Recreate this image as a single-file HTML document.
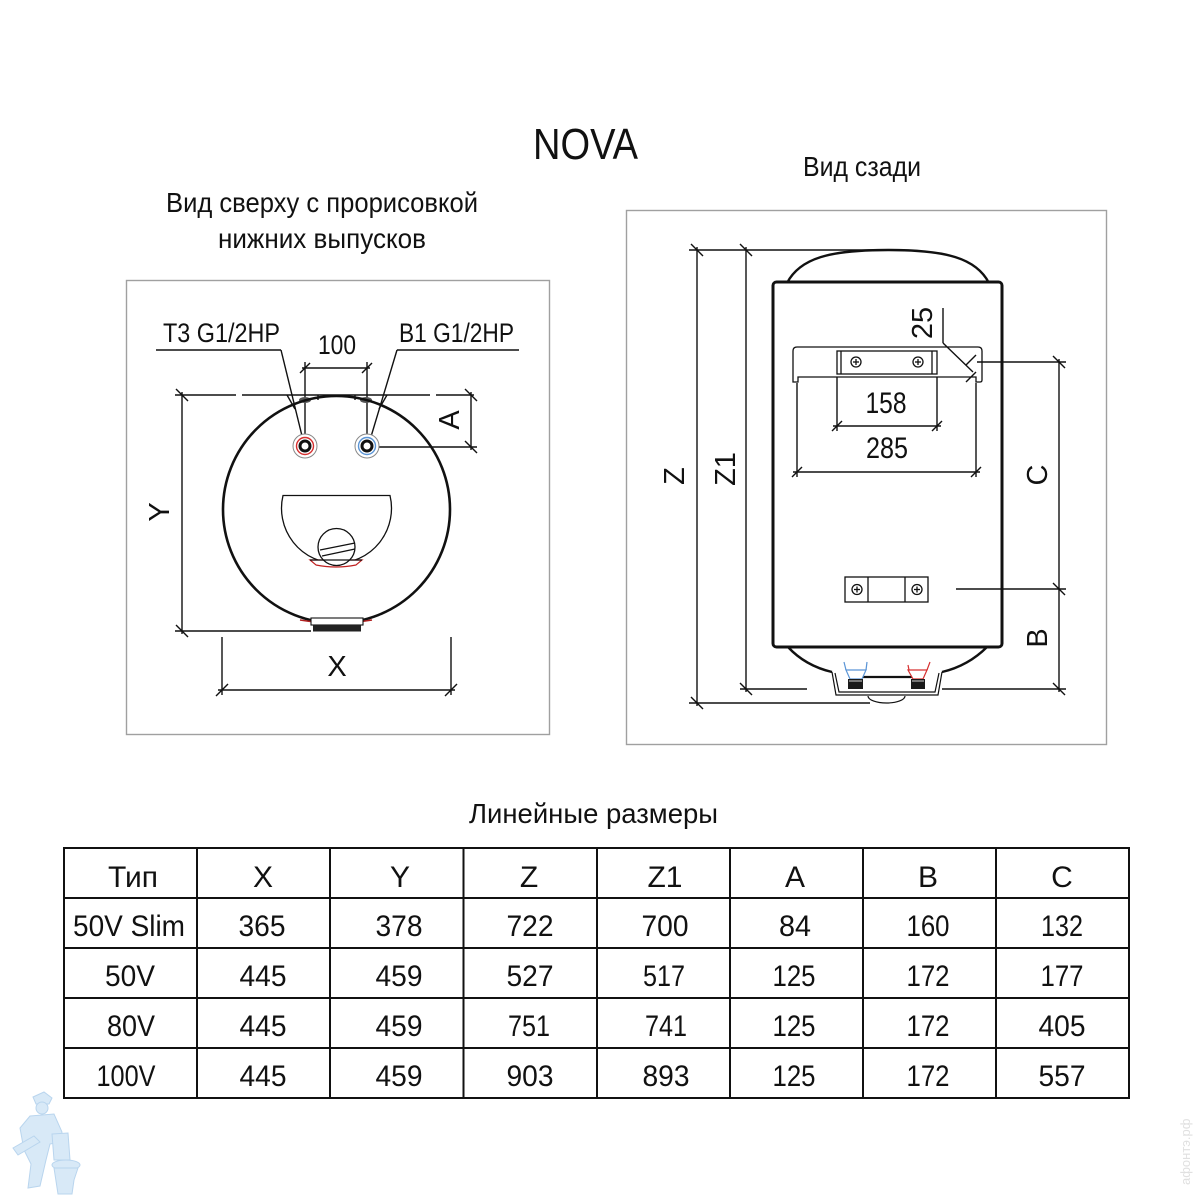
<!DOCTYPE html>
<html><head><meta charset="utf-8"><style>
html,body{margin:0;padding:0;background:#fff;}
svg{display:block;}
text{font-family:"Liberation Sans","DejaVu Sans",sans-serif;fill:#111;}
</style></head><body>
<svg width="1200" height="1200" viewBox="0 0 1200 1200" xmlns="http://www.w3.org/2000/svg">
<rect width="1200" height="1200" fill="#fff"/>

<!-- Titles -->
<text x="533" y="159" font-size="44" textLength="105" lengthAdjust="spacingAndGlyphs">NOVA</text>
<text x="803" y="176" font-size="28" textLength="118" lengthAdjust="spacingAndGlyphs">Вид сзади</text>
<text x="166" y="212" font-size="28" textLength="312" lengthAdjust="spacingAndGlyphs">Вид сверху с прорисовкой</text>
<text x="218" y="248" font-size="28" textLength="208" lengthAdjust="spacingAndGlyphs">нижних выпусков</text>
<text x="469" y="823" font-size="28" textLength="249" lengthAdjust="spacingAndGlyphs">Линейные размеры</text>

<!-- Frames -->
<rect x="126.5" y="280.5" width="423" height="454" fill="none" stroke="#a0a0a0" stroke-width="1.4"/>
<rect x="626.5" y="210.5" width="480" height="534" fill="none" stroke="#a0a0a0" stroke-width="1.4"/>

<!-- ============ LEFT DRAWING ============ -->
<g stroke="#111" fill="none" stroke-width="1.4">
  <line x1="175" y1="395" x2="236" y2="395"/>
  <line x1="242" y1="395" x2="430" y2="395"/>
  <line x1="436" y1="395" x2="474" y2="395"/>
  <line x1="182" y1="392" x2="182" y2="634"/>
  <line x1="175" y1="631" x2="311" y2="631"/>
  <line x1="176" y1="389" x2="188" y2="401"/>
  <line x1="176" y1="625" x2="188" y2="637"/>
  <line x1="222" y1="637" x2="222" y2="695"/>
  <line x1="451" y1="637" x2="451" y2="695"/>
  <line x1="218" y1="690" x2="455" y2="690"/>
  <line x1="216" y1="696" x2="228" y2="684"/>
  <line x1="445" y1="696" x2="457" y2="684"/>
  <line x1="471" y1="392" x2="471" y2="450"/>
  <line x1="375" y1="447" x2="477" y2="447"/>
  <line x1="465" y1="389" x2="477" y2="401"/>
  <line x1="465" y1="441" x2="477" y2="453"/>
  <line x1="305" y1="362" x2="305" y2="440"/>
  <line x1="367" y1="362" x2="367" y2="440"/>
  <line x1="302" y1="368" x2="370" y2="368"/>
  <line x1="300" y1="373" x2="310" y2="363"/>
  <line x1="362" y1="373" x2="372" y2="363"/>
  <line x1="156" y1="350" x2="281" y2="350"/>
  <line x1="281" y1="350" x2="303" y2="440"/>
  <line x1="397" y1="350" x2="519" y2="350"/>
  <line x1="397" y1="350" x2="370" y2="440"/>
  <line x1="287" y1="395" x2="295" y2="409"/>
  <line x1="318" y1="395" x2="318" y2="400"/>
  <line x1="355" y1="395" x2="355" y2="400"/>
  <line x1="387" y1="395" x2="379" y2="409"/>
</g>
<ellipse cx="305" cy="400" rx="6" ry="3" fill="#555"/>
<ellipse cx="366" cy="400" rx="6" ry="3" fill="#555"/>

<circle cx="336.5" cy="509.5" r="113.5" fill="none" stroke="#111" stroke-width="2.6"/>

<circle cx="305" cy="446" r="12" fill="#fff" stroke="#888" stroke-width="1"/>
<circle cx="305" cy="446" r="8.5" fill="none" stroke="#d63030" stroke-width="1.4"/>
<circle cx="305" cy="446" r="5" fill="#fff" stroke="#111" stroke-width="3"/>
<circle cx="367" cy="446" r="12" fill="#fff" stroke="#888" stroke-width="1"/>
<circle cx="367" cy="446" r="8.5" fill="none" stroke="#5b95d6" stroke-width="1.4"/>
<circle cx="367" cy="446" r="5" fill="#fff" stroke="#111" stroke-width="3"/>

<path d="M 283 495.5 L 390 495.5 A 55 55 0 1 1 283 495.5 Z" fill="none" stroke="#111" stroke-width="1.3"/>
<path d="M 310 560 L 362 560 L 356 565 Q 336 569 316 565 Z" fill="#fff" stroke="#c02020" stroke-width="1.2"/>
<circle cx="336.5" cy="547" r="18.5" fill="#fff" stroke="#111" stroke-width="1.3"/>
<line x1="320" y1="550" x2="355" y2="543" stroke="#111" stroke-width="1.3"/>
<line x1="322" y1="556" x2="355" y2="549" stroke="#111" stroke-width="1.3"/>
<line x1="310" y1="560" x2="362" y2="560" stroke="#111" stroke-width="1.3"/>

<path d="M 300 620 Q 336 626 372 620" fill="none" stroke="#b02020" stroke-width="1.5"/>
<rect x="311" y="618" width="52" height="7" fill="#fff" stroke="#111" stroke-width="1.1"/>
<rect x="313" y="625" width="48" height="6.5" fill="#222"/>

<text x="163" y="342" font-size="27" textLength="117" lengthAdjust="spacingAndGlyphs">T3 G1/2HP</text>
<text x="399" y="342" font-size="27" textLength="115" lengthAdjust="spacingAndGlyphs">B1 G1/2HP</text>
<text x="318" y="354" font-size="27" textLength="38" lengthAdjust="spacingAndGlyphs">100</text>
<text x="337" y="676" font-size="29" text-anchor="middle">X</text>
<text transform="translate(169,512) rotate(-90)" font-size="29" text-anchor="middle">Y</text>
<text transform="translate(459,420) rotate(-90)" font-size="29" text-anchor="middle">A</text>

<!-- ============ RIGHT DRAWING ============ -->
<g stroke="#111" fill="none" stroke-width="1.4">
  <line x1="689" y1="250" x2="888" y2="250"/>
  <line x1="697" y1="247" x2="697" y2="706"/>
  <line x1="746" y1="247" x2="746" y2="692"/>
  <line x1="691" y1="244" x2="703" y2="256"/>
  <line x1="740" y1="244" x2="752" y2="256"/>
  <line x1="691" y1="697" x2="703" y2="709"/>
  <line x1="740" y1="683" x2="752" y2="695"/>
  <line x1="689" y1="703" x2="870" y2="703"/>
  <line x1="740" y1="689" x2="807" y2="689"/>
  <line x1="1059" y1="359" x2="1059" y2="692"/>
  <line x1="977" y1="362" x2="1066" y2="362"/>
  <line x1="956" y1="589" x2="1066" y2="589"/>
  <line x1="942" y1="689" x2="1066" y2="689"/>
  <line x1="1053" y1="356" x2="1065" y2="368"/>
  <line x1="1053" y1="583" x2="1065" y2="595"/>
  <line x1="1053" y1="683" x2="1065" y2="695"/>
</g>

<path d="M787,283 C 800,258 830,250 888,250 C 946,250 976,258 989,283" fill="none" stroke="#111" stroke-width="2.4"/>
<path d="M788,647 C 800,660 815,668 832,672" fill="none" stroke="#111" stroke-width="2.4"/>
<path d="M942,672 C 959,668 974,660 987,647" fill="none" stroke="#111" stroke-width="2.4"/>

<rect x="773" y="282" width="229" height="365" rx="3.5" fill="#fff" stroke="#111" stroke-width="3"/>

<g stroke="#111" fill="none" stroke-width="1.4">
  <line x1="837" y1="377" x2="837" y2="431"/>
  <line x1="937" y1="377" x2="937" y2="431"/>
  <line x1="833" y1="426" x2="941" y2="426"/>
  <line x1="832" y1="431" x2="842" y2="421"/>
  <line x1="932" y1="431" x2="942" y2="421"/>
  <line x1="797" y1="383" x2="797" y2="477"/>
  <line x1="976" y1="383" x2="976" y2="477"/>
  <line x1="793" y1="472" x2="980" y2="472"/>
  <line x1="792" y1="477" x2="802" y2="467"/>
  <line x1="971" y1="477" x2="981" y2="467"/>
  <line x1="943" y1="308" x2="943" y2="343"/>
  <line x1="943" y1="343" x2="973" y2="372"/>
  <line x1="966" y1="365" x2="976" y2="355"/>
  <line x1="966" y1="382" x2="976" y2="372"/>
  <line x1="956" y1="589" x2="1002" y2="589"/>
  <line x1="977" y1="362" x2="1002" y2="362"/>
</g>

<g stroke="#111" fill="none" stroke-width="1.3">
  <path d="M793,382 L793,351 Q793,347 797,347 L978,347 Q982,347 982,351 L982,380 Q982,382 980,382 L976,382 L976,377 L798,377 L798,382 Z"/>
  <rect x="837" y="351" width="100" height="23" fill="#fff"/>
  <line x1="841" y1="351" x2="841" y2="374"/>
  <line x1="932" y1="351" x2="932" y2="374"/>
  <circle cx="856" cy="362" r="5"/>
  <circle cx="918" cy="362" r="5"/>
  <line x1="853" y1="362" x2="859" y2="362"/>
  <line x1="856" y1="359" x2="856" y2="365"/>
  <line x1="915" y1="362" x2="921" y2="362"/>
  <line x1="918" y1="359" x2="918" y2="365"/>
</g>

<g stroke="#111" fill="none" stroke-width="1.3">
  <rect x="845" y="577" width="83" height="25" fill="#fff"/>
  <line x1="868" y1="577" x2="868" y2="602"/>
  <line x1="905" y1="577" x2="905" y2="602"/>
  <circle cx="857" cy="589.5" r="5"/>
  <circle cx="917" cy="589.5" r="5"/>
  <line x1="854" y1="589.5" x2="860" y2="589.5"/>
  <line x1="857" y1="586.5" x2="857" y2="592.5"/>
  <line x1="914" y1="589.5" x2="920" y2="589.5"/>
  <line x1="917" y1="586.5" x2="917" y2="592.5"/>
</g>

<g stroke="#111" fill="none" stroke-width="1.2">
  <path d="M832,672 L836,695 L938,695 L942,672"/>
  <path d="M835,673 L839,692 L935,692 L939,673"/>
  <path d="M868,696 A 18.5 7 0 0 0 905,696"/>
</g>
<line x1="863" y1="677" x2="912" y2="677" stroke="#111" stroke-width="2.2"/>
<g fill="none" stroke="#5b95d6" stroke-width="1.2">
  <line x1="844" y1="662" x2="846" y2="670"/>
  <line x1="867" y1="662" x2="866" y2="670"/>
  <path d="M846,670 L866,670 L862,679 L850,679 Z"/>
</g>
<g fill="none" stroke="#d63030" stroke-width="1.2">
  <line x1="908" y1="665" x2="909" y2="670"/>
  <line x1="930" y1="662" x2="927" y2="670"/>
  <path d="M908,670 L927,670 L923,679 L913,679 Z"/>
</g>
<rect x="848" y="679" width="15" height="10" fill="#1a1a1a"/>
<rect x="911" y="679" width="14" height="10" fill="#1a1a1a"/>
<rect x="849" y="680" width="13" height="2" fill="#777"/>
<rect x="912" y="680" width="12" height="2" fill="#777"/>

<text x="886" y="413" font-size="30" text-anchor="middle" textLength="41" lengthAdjust="spacingAndGlyphs">158</text>
<text x="887" y="458" font-size="30" text-anchor="middle" textLength="42" lengthAdjust="spacingAndGlyphs">285</text>
<text transform="translate(932,323) rotate(-90)" font-size="29" text-anchor="middle">25</text>
<text transform="translate(684,476) rotate(-90)" font-size="29" text-anchor="middle">Z</text>
<text transform="translate(735,469) rotate(-90)" font-size="29" text-anchor="middle">Z1</text>
<text transform="translate(1047,475) rotate(-90)" font-size="29" text-anchor="middle">C</text>
<text transform="translate(1047,638) rotate(-90)" font-size="29" text-anchor="middle">B</text>

<!-- ============ TABLE ============ -->
<g stroke="#111" stroke-width="2" fill="none">
  <rect x="64" y="848" width="1065" height="250"/>
  <line x1="64" y1="898" x2="1129" y2="898"/>
  <line x1="64" y1="948" x2="1129" y2="948"/>
  <line x1="64" y1="998" x2="1129" y2="998"/>
  <line x1="64" y1="1048" x2="1129" y2="1048"/>
  <line x1="197" y1="848" x2="197" y2="1098"/>
  <line x1="330" y1="848" x2="330" y2="1098"/>
  <line x1="463.5" y1="848" x2="463.5" y2="1098"/>
  <line x1="597" y1="848" x2="597" y2="1098"/>
  <line x1="730" y1="848" x2="730" y2="1098"/>
  <line x1="863" y1="848" x2="863" y2="1098"/>
  <line x1="996" y1="848" x2="996" y2="1098"/>
</g>
<g font-size="30" text-anchor="middle">
  <text x="133" y="887">Тип</text>
  <text x="263" y="887">X</text>
  <text x="400" y="887">Y</text>
  <text x="529" y="887">Z</text>
  <text x="665" y="887">Z1</text>
  <text x="795" y="887">A</text>
  <text x="928" y="887">B</text>
  <text x="1062" y="887">C</text>

  <text x="129" y="936" textLength="112" lengthAdjust="spacingAndGlyphs">50V Slim</text>
  <text x="262" y="936" textLength="47" lengthAdjust="spacingAndGlyphs">365</text>
  <text x="399" y="936" textLength="47" lengthAdjust="spacingAndGlyphs">378</text>
  <text x="530" y="936" textLength="47" lengthAdjust="spacingAndGlyphs">722</text>
  <text x="665" y="936" textLength="47" lengthAdjust="spacingAndGlyphs">700</text>
  <text x="795" y="936" textLength="32" lengthAdjust="spacingAndGlyphs">84</text>
  <text x="928" y="936" textLength="43" lengthAdjust="spacingAndGlyphs">160</text>
  <text x="1062" y="936" textLength="42" lengthAdjust="spacingAndGlyphs">132</text>

  <text x="130" y="986" textLength="50" lengthAdjust="spacingAndGlyphs">50V</text>
  <text x="263" y="986" textLength="47" lengthAdjust="spacingAndGlyphs">445</text>
  <text x="399" y="986" textLength="47" lengthAdjust="spacingAndGlyphs">459</text>
  <text x="530" y="986" textLength="47" lengthAdjust="spacingAndGlyphs">527</text>
  <text x="664" y="986" textLength="42" lengthAdjust="spacingAndGlyphs">517</text>
  <text x="794" y="986" textLength="43" lengthAdjust="spacingAndGlyphs">125</text>
  <text x="928" y="986" textLength="43" lengthAdjust="spacingAndGlyphs">172</text>
  <text x="1062" y="986" textLength="43" lengthAdjust="spacingAndGlyphs">177</text>

  <text x="131" y="1036" textLength="48" lengthAdjust="spacingAndGlyphs">80V</text>
  <text x="263" y="1036" textLength="47" lengthAdjust="spacingAndGlyphs">445</text>
  <text x="399" y="1036" textLength="47" lengthAdjust="spacingAndGlyphs">459</text>
  <text x="529" y="1036" textLength="42" lengthAdjust="spacingAndGlyphs">751</text>
  <text x="666" y="1036" textLength="42" lengthAdjust="spacingAndGlyphs">741</text>
  <text x="794" y="1036" textLength="43" lengthAdjust="spacingAndGlyphs">125</text>
  <text x="928" y="1036" textLength="43" lengthAdjust="spacingAndGlyphs">172</text>
  <text x="1062" y="1036" textLength="47" lengthAdjust="spacingAndGlyphs">405</text>

  <text x="126" y="1086" textLength="59" lengthAdjust="spacingAndGlyphs">100V</text>
  <text x="263" y="1086" textLength="47" lengthAdjust="spacingAndGlyphs">445</text>
  <text x="399" y="1086" textLength="47" lengthAdjust="spacingAndGlyphs">459</text>
  <text x="530" y="1086" textLength="47" lengthAdjust="spacingAndGlyphs">903</text>
  <text x="666" y="1086" textLength="47" lengthAdjust="spacingAndGlyphs">893</text>
  <text x="794" y="1086" textLength="43" lengthAdjust="spacingAndGlyphs">125</text>
  <text x="928" y="1086" textLength="43" lengthAdjust="spacingAndGlyphs">172</text>
  <text x="1062" y="1086" textLength="47" lengthAdjust="spacingAndGlyphs">557</text>
</g>

<!-- logo (plumber with toilet), light blue -->
<g fill="#d8e9f7" stroke="#b9d5ee" stroke-width="1">
  <path d="M33,1097 L44,1092 L52,1098 L49,1104 L36,1104 Z"/>
  <circle cx="42" cy="1108" r="6"/>
  <path d="M30,1116 L54,1114 L62,1132 L60,1142 L50,1144 L46,1160 L40,1186 L28,1188 L31,1164 L24,1150 L20,1128 Z"/>
  <path d="M13,1148 L34,1136 L40,1142 L18,1155 Z"/>
  <path d="M52,1134 L68,1133 L70,1160 L54,1160 Z"/>
  <ellipse cx="66" cy="1165" rx="14" ry="5"/>
  <path d="M54,1168 L78,1168 L74,1180 L72,1194 L58,1194 Z"/>
</g>

<!-- faint watermark on right edge -->
<text transform="translate(1190,1185) rotate(-90)" font-size="13" style="fill:#e0e0e0">афонтэ.рф</text>

</svg>
</body></html>
